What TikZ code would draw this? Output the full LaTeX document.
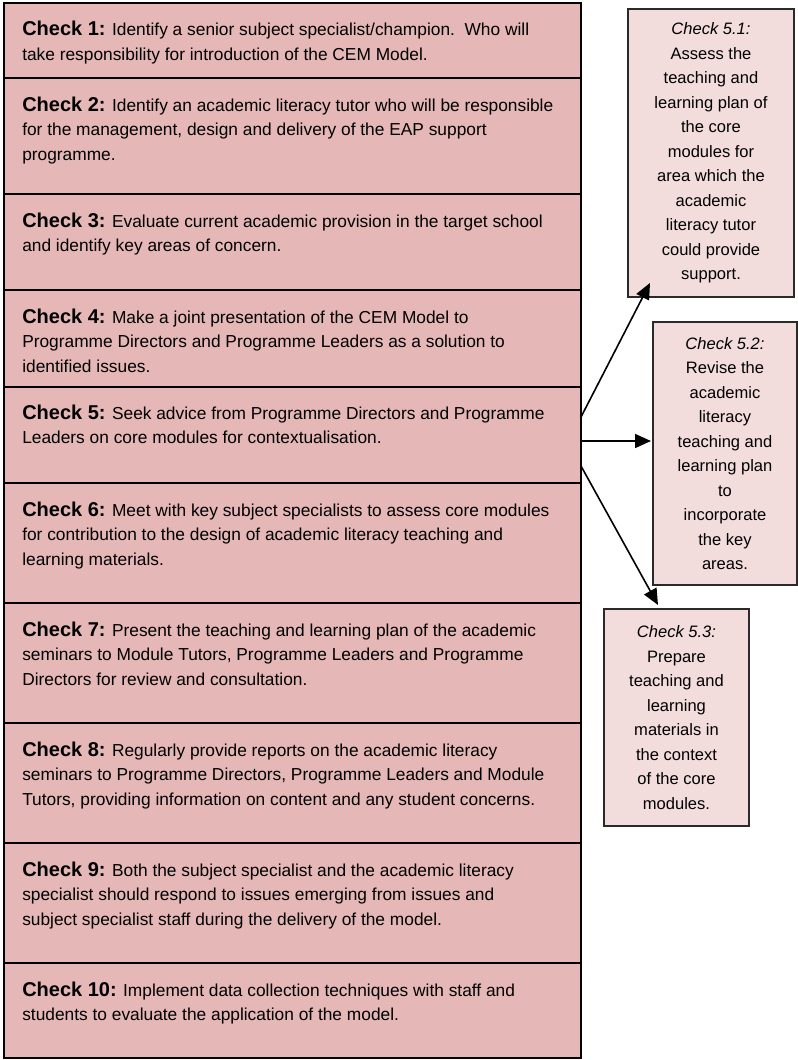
\documentclass[tikz,border=0pt]{standalone}
\usepackage{fontspec}
\setmainfont{Liberation Sans}
\usetikzlibrary{arrows.meta,calc}
\definecolor{mainfill}{HTML}{E5B7B7}
\definecolor{sidefill}{HTML}{F2DCDC}
\definecolor{sideline}{HTML}{2A2A2A}
\newcommand{\ck}[1]{{\fontsize{15}{18.4}\selectfont\bfseries #1}}
\newcommand{\mtxt}[1]{\parbox[t]{440pt}{\raggedright #1}}
\begin{document}
\begin{tikzpicture}[x=0.75pt,y=-0.75pt,
  mainbox/.style={draw=black, line width=1.5pt, fill=mainfill, minimum width=432.75pt,
    anchor=north west, inner sep=0pt, outer sep=0pt},
  txt/.style={anchor=base west, inner sep=0pt, font=\fontsize{13}{18.4}\selectfont},
  sidebox/.style={draw=sideline, line width=1.4pt, fill=sidefill, anchor=north west,
    inner sep=0pt, outer sep=0pt, align=center, font=\fontsize{12.4}{18.4}\selectfont},
  arr/.style={line width=1.2pt, -{Triangle[length=12pt,width=10.5pt]}}]
\useasboundingbox (0,0) rectangle (798,1060);

% main column
\node[mainbox, minimum height=56.25pt] (c1) at (4,3) {};
\node[mainbox, minimum height=87pt] (c2) at (4,78) {};
\node[mainbox, minimum height=72pt] (c3) at (4,194) {};
\node[mainbox, minimum height=72.75pt] (c4) at (4,290) {};
\node[mainbox, minimum height=72pt] (c5) at (4,387) {};
\node[mainbox, minimum height=90pt] (c6) at (4,483) {};
\node[mainbox, minimum height=90pt] (c7) at (4,603) {};
\node[mainbox, minimum height=90pt] (c8) at (4,723) {};
\node[mainbox, minimum height=90pt] (c9) at (4,843) {};
\node[mainbox, minimum height=71.25pt] (c10) at (4,963) {};

\node[txt] (t1) at (22,36) {\mtxt{\ck{Check 1:} Identify a senior subject specialist/champion.\ \ Who will\\take responsibility for introduction of the CEM Model.}};
\node[txt] (t2) at (22,111) {\mtxt{\ck{Check 2:} Identify an academic literacy tutor who will be responsible\\for the management, design and delivery of the EAP support\\programme.}};
\node[txt] (t3) at (22,227) {\mtxt{\ck{Check 3:} Evaluate current academic provision in the target school\\and identify key areas of concern.}};
\node[txt] (t4) at (22,323) {\mtxt{\ck{Check 4:} Make a joint presentation of the CEM Model to\\Programme Directors and Programme Leaders as a solution to\\identified issues.}};
\node[txt] (t5) at (22,419) {\mtxt{\ck{Check 5:} Seek advice from Programme Directors and Programme\\Leaders on core modules for contextualisation.}};
\node[txt] (t6) at (22,516) {\mtxt{\ck{Check 6:} Meet with key subject specialists to assess core modules\\for contribution to the design of academic literacy teaching and\\learning materials.}};
\node[txt] (t7) at (22,636) {\mtxt{\ck{Check 7:} Present the teaching and learning plan of the academic\\seminars to Module Tutors, Programme Leaders and Programme\\Directors for review and consultation.}};
\node[txt] (t8) at (22,756) {\mtxt{\ck{Check 8:} Regularly provide reports on the academic literacy\\seminars to Programme Directors, Programme Leaders and Module\\Tutors, providing information on content and any student concerns.}};
\node[txt] (t9) at (22,876) {\mtxt{\ck{Check 9:} Both the subject specialist and the academic literacy\\specialist should respond to issues emerging from issues and\\subject specialist staff during the delivery of the model.}};
\node[txt] (t10) at (22,996) {\mtxt{\ck{Check 10:} Implement data collection techniques with staff and\\students to evaluate the application of the model.}};

% side boxes
\node[sidebox, minimum width=124.5pt, minimum height=216pt] (s1) at (628,9)
  {\textit{Check 5.1:}\\Assess the\\teaching and\\learning plan of\\the core\\modules for\\area which the\\academic\\literacy tutor\\could provide\\support.};
\node[sidebox, minimum width=108pt, minimum height=197.25pt] (s2) at (653,322)
  {\textit{Check 5.2:}\\Revise the\\academic\\literacy\\teaching and\\learning plan\\to\\incorporate\\the key\\areas.};
\node[sidebox, minimum width=108.75pt, minimum height=162.75pt] (s3) at (604,609)
  {\textit{Check 5.3:}\\Prepare\\teaching and\\learning\\materials in\\the context\\of the core\\modules.};

% connectors
\coordinate (o1) at ($(c5.north east)+(0,30)$);
\coordinate (o2) at ($(c5.north east)+(0,54)$);
\coordinate (o3) at ($(c5.north east)+(0,79)$);
\draw[arr] (o1) -- ($(s1.south west)+(22,-14)$);
\draw[arr, shorten >=1.5pt] (o2) -- (o2 -| s2.west);
\draw[arr] (o3) -- ($(s3.north west)+(54,-4)$);
\end{tikzpicture}
\end{document}
